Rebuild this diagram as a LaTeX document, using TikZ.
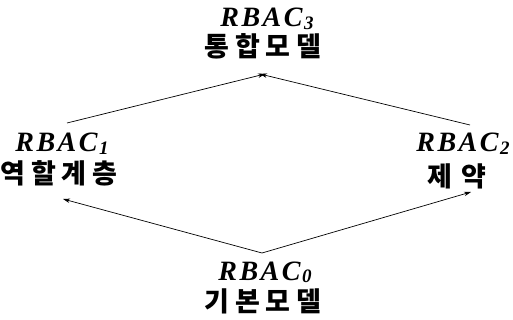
\documentclass[tikz,border=0pt]{standalone}
\usepackage{fontspec}
\setmainfont{Liberation Serif}
\newfontfamily\krfont{Noto Sans CJK KR}
\usetikzlibrary{arrows.meta}
\newcommand\ksp{\hspace{6pt}}
\newcommand\rbacsub[1]{{\fontsize{28}{30}\selectfont\bfseries\itshape R\kern2.5pt B\kern2.5pt A\kern2.5pt C\kern1.5pt\raisebox{-2.5pt}{\fontsize{19}{21}\selectfont #1}}}
\tikzset{
  rlabel/.style={inner sep=0pt, anchor=base, text=black, text height=19pt, text depth=2pt},
  klabel/.style={inner sep=0pt, anchor=base, text=black, text height=19pt, text depth=1pt,
    font=\krfont\bfseries\fontsize{27}{29}\selectfont},
  conn/.style={draw=black, line width=0.7pt, -{Stealth[length=7pt,width=4.5pt]}}
}
\begin{document}
\begin{tikzpicture}[x=1pt,y=-1pt]
\useasboundingbox (0,0) rectangle (513,320);
% labels
\node[rlabel] (r3) at (267,27) {\rbacsub{3}};
\node[klabel] (k3) at (263,57) {통\ksp 합\ksp 모\ksp 델};
\node[rlabel] (r1) at (62,152) {\rbacsub{1}};
\node[klabel] (k1) at (59,184) {역\ksp 할\ksp 계\ksp 층};
\node[rlabel] (r2) at (463,152) {\rbacsub{2}};
\node[klabel] (k2) at (457,186) {제\hspace{10pt}약};
\node[rlabel] (r0) at (265,280) {\rbacsub{0}};
\node[klabel] (k0) at (263,311) {기\ksp 본\ksp 모\ksp 델};
% connector end points
\coordinate (apex0) at (262,253);
\coordinate (in1) at (63,199);
\coordinate (in2) at (471,192);
\coordinate (out1) at (67,123);
\coordinate (out2) at (470,125);
\coordinate (in3a) at (265,74);
\coordinate (in3b) at (260,74);
% connectors
\draw[conn] (apex0) -- (in1);
\draw[conn] (apex0) -- (in2);
\draw[conn] (out1) -- (in3a);
\draw[conn] (out2) -- (in3b);
\end{tikzpicture}
\end{document}
